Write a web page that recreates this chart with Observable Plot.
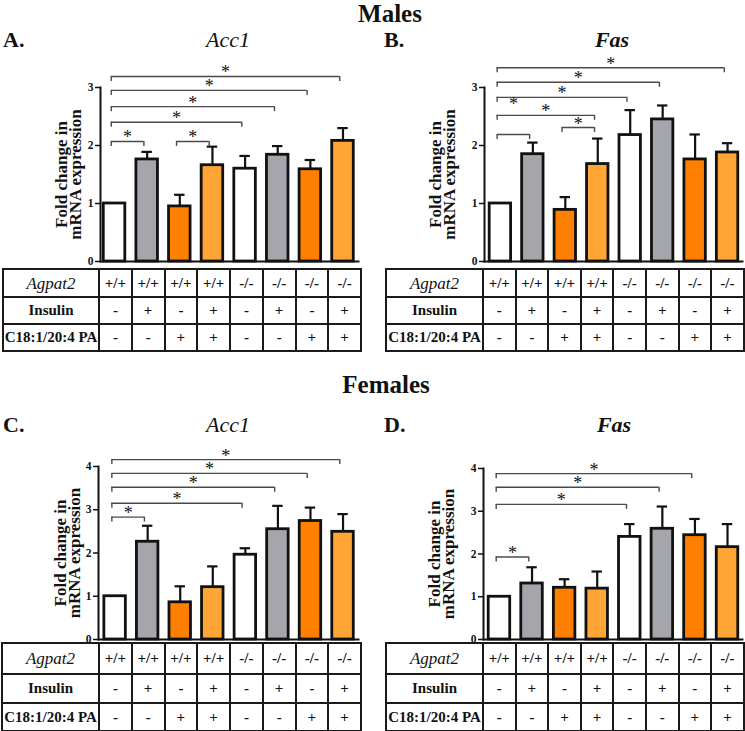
<!DOCTYPE html>
<html><head><meta charset="utf-8">
<script src="https://cdn.jsdelivr.net/npm/d3@7"></script>
<script src="https://cdn.jsdelivr.net/npm/@observablehq/plot@0.6"></script>
<style>
body{margin:0;background:#fff;}
#fig{position:relative;width:745px;height:731px;font-family:"Liberation Serif","DejaVu Serif",serif;color:#111;overflow:hidden;background:#fff}
.lbl{position:absolute;line-height:1.2;white-space:nowrap}
.plotbox{position:absolute}
.plotbox svg{overflow:visible;display:block}
table.cond{border-collapse:collapse;position:absolute;table-layout:fixed;font-family:"Liberation Serif",serif}
table.cond td{border:2px solid #1a1a1a;text-align:center;font-weight:bold;font-size:15px;padding:0;color:#111;line-height:1}
table.cond td.lab{font-size:15px;}
table.cond td.it{font-style:italic;font-weight:normal;font-size:17px}
</style></head>
<body>
<div id="fig"></div>
<script>
// ---- condition table (shared by all panels) ----
const rowLabels = ["Agpat2", "Insulin", "C18:1/20:4 PA"];
const agpat2  = ["+/+", "+/+", "+/+", "+/+", "-/-", "-/-", "-/-", "-/-"];
const insulin = ["-", "+", "-", "+", "-", "+", "-", "+"];
const pa      = ["-", "-", "+", "+", "-", "-", "+", "+"];
const barFills = ["#ffffff", "#a5a5ac", "#ff8000", "#ffa535", "#ffffff", "#a5a5ac", "#ff8000", "#ffa535"];

// ---- Males ----
const maleAcc1Mean  = [1.00, 1.76, 0.95, 1.66, 1.60, 1.84, 1.59, 2.08];
const maleAcc1Upper = [1.00, 1.89, 1.15, 1.98, 1.82, 1.99, 1.75, 2.30];
const maleAcc1Sig   = [[0, 1, 2.07], [2, 3, 2.07], [0, 4, 2.40], [0, 5, 2.67], [0, 6, 2.95], [0, 7, 3.19]];

const maleFasMean  = [1.00, 1.85, 0.89, 1.68, 2.18, 2.45, 1.76, 1.88];
const maleFasUpper = [1.00, 2.05, 1.11, 2.12, 2.61, 2.69, 2.19, 2.04];
const maleFasSig   = [[0, 1, 2.19, 2.64], [2, 3, 2.31], [0, 3, 2.52], [0, 4, 2.83], [0, 5, 3.09], [0, 7, 3.34]];

// ---- Females ----
const femaleAcc1Mean  = [1.00, 2.26, 0.86, 1.21, 1.96, 2.55, 2.74, 2.49];
const femaleAcc1Upper = [1.00, 2.63, 1.23, 1.69, 2.11, 3.09, 3.05, 2.90];
const femaleAcc1Sig   = [[0, 1, 2.83], [0, 4, 3.15], [0, 5, 3.52], [0, 6, 3.84], [0, 7, 4.16]];

const femaleFasMean  = [1.00, 1.31, 1.21, 1.19, 2.40, 2.59, 2.44, 2.16];
const femaleFasUpper = [1.00, 1.69, 1.41, 1.59, 2.70, 3.11, 2.82, 2.70];
const femaleFasSig   = [[0, 1, 1.93], [0, 4, 3.16], [0, 5, 3.56], [0, 6, 3.88]];

const sectionTitles = ["Males", "Females"];
const panelLetters = ["A.", "B.", "C.", "D."];
const geneNames = ["Acc1", "Fas", "Acc1", "Fas"];
const geneBold = [false, true, false, true];
const yLabel = "Fold change in\nmRNA expression";

const fig = document.getElementById("fig");

// line-height 1.2 box: baseline ≈ top + (0.1 - 0.0535 + 0.891) em
function addLabel(text, x, baseline, fs, opts = {}) {
  const d = document.createElement("div");
  d.className = "lbl";
  d.textContent = text;
  d.style.fontSize = fs + "px";
  d.style.fontWeight = opts.weight || "bold";
  if (opts.italic) d.style.fontStyle = "italic";
  d.style.top = (baseline - 0.9375 * fs) + "px";
  if (opts.center) {
    d.style.left = (x - 200) + "px";
    d.style.width = "400px";
    d.style.textAlign = "center";
  } else {
    d.style.left = x + "px";
  }
  fig.appendChild(d);
}

function makeTable(g) {
  const t = document.createElement("table");
  t.className = "cond";
  t.style.left = g.tableLeft + "px";
  t.style.top = g.tableTop + "px";
  const widths = [g.firstColW, ...agpat2.map(() => g.colW)];
  t.style.width = d3.sum(widths) + "px";
  const cg = document.createElement("colgroup");
  widths.forEach(w => { const c = document.createElement("col"); c.style.width = w + "px"; cg.appendChild(c); });
  t.appendChild(cg);
  const rows = [agpat2, insulin, pa];
  rowLabels.forEach((lab, r) => {
    const tr = document.createElement("tr");
    tr.style.height = g.rowH[r] + "px";
    const th = document.createElement("td");
    th.textContent = lab;
    th.className = r === 0 ? "lab it" : "lab";
    tr.appendChild(th);
    rows[r].forEach(v => { const td = document.createElement("td"); td.textContent = v; tr.appendChild(td); });
    t.appendChild(tr);
  });
  fig.appendChild(t);
}

function makeChart(g, mean, upper, sig) {
  const data = mean.map((m, i) => ({i, mean: m, upper: upper[i], fill: barFills[i]}));
  const err = data.filter(d => d.upper > d.mean);
  const pxPerUnit = (g.y0 - g.yTopPix) / g.ymax;
  const tl = 5 / pxPerUnit;
  const br = sig.map(([a, b, lev, starLev]) => ({a: a - 0.1, b: b - 0.1, lev, mid: (a + b) / 2 - 0.1, starLev: starLev ?? lev}));
  const height = g.y0 - g.svgTop + 4;
  const svg = Plot.plot({
    width: g.svgWidth,
    height,
    marginLeft: g.axisX - g.svgLeft,
    marginRight: g.svgLeft + g.svgWidth - g.axisRight,
    marginTop: g.yTopPix - g.svgTop,
    marginBottom: 4,
    x: {domain: g.xDomain, axis: null},
    y: {domain: [0, g.ymax], axis: null},
    color: {type: "identity"},
    style: {fontFamily: "'Liberation Serif', serif", background: "transparent", color: "#111"},
    marks: [
      Plot.axisY({ticks: d3.range(g.ymax + 1), tickSize: 5, tickPadding: 2, fontSize: 11.5, fontWeight: "bold", tickFormat: d3.format("d"), label: null, strokeWidth: 1.5}),
      Plot.text([yLabel], {frameAnchor: "left", rotate: -90, dx: g.labelDx, fontSize: 17, fontWeight: "bold", lineHeight: 0.8, textAnchor: "middle", lineAnchor: "middle", fill: "#111"}),
      Plot.ruleX(err, {x: "i", y1: "mean", y2: "upper", strokeWidth: 2.2, stroke: "#111"}),
      Plot.ruleY(err, {y: "upper", x1: d => d.i - 0.16, x2: d => d.i + 0.16, strokeWidth: 2.2, stroke: "#111"}),
      Plot.rectY(data, {x1: d => d.i - 0.33, x2: d => d.i + 0.33, y1: 0, y2: "mean", fill: "fill", stroke: "#111", strokeWidth: 2.8}),
      Plot.frame({anchor: "left", strokeWidth: 2, stroke: "#111"}),
      Plot.frame({anchor: "bottom", strokeWidth: 2, stroke: "#111"}),
      Plot.ruleY(br, {y: "lev", x1: "a", x2: "b", stroke: "#4a4a4a", strokeWidth: 1.4}),
      Plot.ruleX(br, {x: "a", y1: "lev", y2: d => d.lev - tl, stroke: "#4a4a4a", strokeWidth: 1.4}),
      Plot.ruleX(br, {x: "b", y1: "lev", y2: d => d.lev - tl, stroke: "#4a4a4a", strokeWidth: 1.4}),
      Plot.text(br, {x: "mid", y: "starLev", text: () => "*", lineAnchor: "bottom", fontSize: 18, dy: 2, fill: "#111"})
    ]
  });
  const box = document.createElement("div");
  box.className = "plotbox";
  box.style.left = g.svgLeft + "px";
  box.style.top = g.svgTop + "px";
  box.appendChild(svg);
  fig.appendChild(box);
}

const geoms = [
  {svgLeft: 0, svgWidth: 362, svgTop: 50, axisX: 100, axisRight: 358, yTopPix: 87, y0: 261, ymax: 3, xDomain: [-0.43, 7.475], labelDx: -31,
   tableLeft: 2, tableTop: 268, firstColW: 96, colW: 32.75, rowH: [28, 27, 27], letterX: 3, geneX: 228, titleBase: 48},
  {svgLeft: 380, svgWidth: 365, svgTop: 50, axisX: 484, axisRight: 742, yTopPix: 87, y0: 261, ymax: 3, xDomain: [-0.49, 7.46], labelDx: -41,
   tableLeft: 385, tableTop: 268, firstColW: 97, colW: 32.6, rowH: [28, 27, 27], letterX: 384, geneX: 612, titleBase: 48},
  {svgLeft: 0, svgWidth: 362, svgTop: 436, axisX: 98, axisRight: 358, yTopPix: 466, y0: 639, ymax: 4, xDomain: [-0.51, 7.475], labelDx: -30,
   tableLeft: 1, tableTop: 642, firstColW: 97, colW: 32.75, rowH: [31, 29, 28], letterX: 3, geneX: 228, titleBase: 433},
  {svgLeft: 380, svgWidth: 365, svgTop: 436, axisX: 483, axisRight: 742, yTopPix: 468, y0: 639, ymax: 4, xDomain: [-0.49, 7.46], labelDx: -41,
   tableLeft: 385, tableTop: 642, firstColW: 97, colW: 32.6, rowH: [31, 29, 28], letterX: 384, geneX: 614, titleBase: 433}
];
const series = [
  [maleAcc1Mean, maleAcc1Upper, maleAcc1Sig],
  [maleFasMean, maleFasUpper, maleFasSig],
  [femaleAcc1Mean, femaleAcc1Upper, femaleAcc1Sig],
  [femaleFasMean, femaleFasUpper, femaleFasSig]
];

addLabel(sectionTitles[0], 390, 22, 25, {center: true});
addLabel(sectionTitles[1], 386, 393, 25, {center: true});

geoms.forEach((g, k) => {
  makeChart(g, ...series[k]);
  makeTable(g);
  addLabel(panelLetters[k], g.letterX, g.titleBase, 22);
  addLabel(geneNames[k], g.geneX, g.titleBase, 22, {center: true, italic: true, weight: geneBold[k] ? "bold" : "normal"});
});
</script>
</body></html>
